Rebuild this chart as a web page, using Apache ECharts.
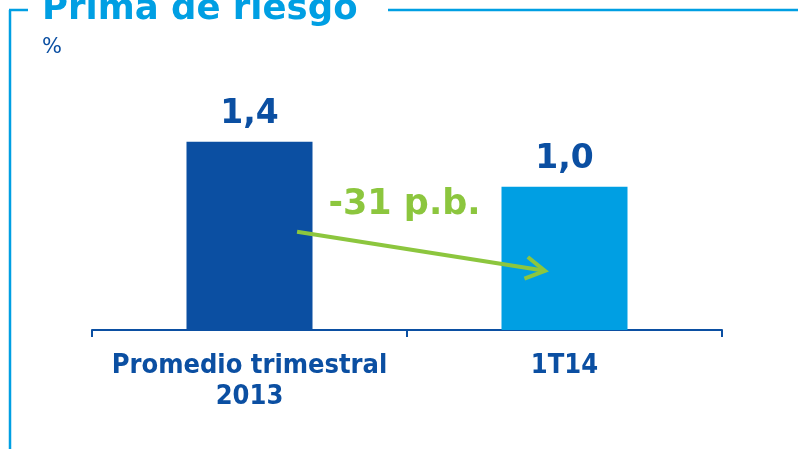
<!DOCTYPE html>
<html>
<head>
<meta charset="utf-8">
<style>
  html, body { margin: 0; padding: 0; background: #fff; }
  #chart { width: 798px; height: 449px; }
</style>
<script src="https://cdn.jsdelivr.net/npm/echarts@6/dist/echarts.min.js"></script>
</head>
<body>
<div id="chart"></div>
<script>
// data
const categories = ['Promedio trimestral\n2013', '1T14'];
const values = [1.40, 1.065];
const valueLabels = ['1,4', '1,0'];
const barColors = ['#0b4fa2', '#009fe3'];

// change annotation (data space: x in category index units, y in %)
const changeText = '-31 p.b.';
const changeTextPos = [0.492, 0.93];
const arrowFrom = [0.151, 0.73];
const arrowTo = [0.938, 0.44];

const DARK = '#0b4fa2';
const LIGHT = '#009fe3';
const GREEN = '#8cc63e';
const FONT = '"DejaVu Sans", sans-serif';
const FONT_NARROW = '"DejaVu Sans Condensed", "DejaVu Sans", sans-serif';

const chart = echarts.init(document.getElementById('chart'));

const option = {
    animation: false,
    grid: { left: 92, right: 76, top: 61, bottom: 119 },
    xAxis: [
        {
            type: 'category',
            data: categories,
            axisLine: { lineStyle: { color: DARK, width: 2 } },
            axisTick: { show: true, interval: 0, length: 7, lineStyle: { color: DARK, width: 2 } },
            axisLabel: {
                interval: 0,
                color: DARK,
                fontFamily: FONT_NARROW,
                fontWeight: 'bold',
                fontSize: 27,
                lineHeight: 31,
                margin: 20
            }
        },
        {
            // hidden helper axis for placing the annotation
            type: 'value',
            min: -0.5,
            max: 1.5,
            show: false
        }
    ],
    yAxis: {
        type: 'value',
        min: 0,
        max: 2,
        show: false,
        splitLine: { show: false }
    },
    series: [
        {
            type: 'bar',
            barWidth: '40%',
            data: values.map((v, i) => ({ value: v, itemStyle: { color: barColors[i] } })),
            label: {
                show: true,
                position: 'top',
                distance: 11,
                color: DARK,
                fontFamily: FONT,
                fontWeight: 'bold',
                fontSize: 33,
                formatter: p => valueLabels[p.dataIndex]
            }
        }
    ],
    graphic: [
        // frame
        { type: 'line', z: 10, shape: { x1: 10, y1: 10, x2: 10, y2: 449 }, style: { stroke: LIGHT, lineWidth: 2.5 } },
        { type: 'line', z: 10, shape: { x1: 9, y1: 10, x2: 28, y2: 10 }, style: { stroke: LIGHT, lineWidth: 2.5 } },
        { type: 'line', z: 10, shape: { x1: 388, y1: 10, x2: 798, y2: 10 }, style: { stroke: LIGHT, lineWidth: 2.5 } },
        {
            type: 'text', z: 10, left: 42, top: -8,
            style: { text: 'Prima de riesgo', fill: LIGHT, font: 'bold 35.5px ' + FONT }
        },
        {
            type: 'text', z: 10, left: 42, top: 37,
            style: { text: '%', fill: DARK, font: '21px ' + FONT }
        }
    ]
};

chart.setOption(option);

// arrow and change label placed through the axes
const toPx = v => chart.convertToPixel({ xAxisIndex: 1, yAxisIndex: 0 }, v);
const p1 = toPx(arrowFrom);
const p2 = toPx(arrowTo);
const pt = toPx(changeTextPos);
const ang = Math.atan2(p2[1] - p1[1], p2[0] - p1[0]);
const head = 22, spread = 0.52;
const h1 = [p2[0] - head * Math.cos(ang - spread), p2[1] - head * Math.sin(ang - spread)];
const h2 = [p2[0] - head * Math.cos(ang + spread), p2[1] - head * Math.sin(ang + spread)];

chart.setOption({
    graphic: option.graphic.concat([
        {
            type: 'line', z: 100,
            shape: { x1: p1[0], y1: p1[1], x2: p2[0], y2: p2[1] },
            style: { stroke: GREEN, lineWidth: 4 }
        },
        {
            type: 'polyline', z: 100,
            shape: { points: [h1, p2, h2] },
            style: { stroke: GREEN, lineWidth: 4, fill: null, lineJoin: 'miter' }
        },
        {
            type: 'text', z: 100, x: pt[0], y: pt[1],
            style: {
                text: changeText, fill: GREEN, font: 'bold 35px ' + FONT,
                textAlign: 'center', textVerticalAlign: 'middle'
            }
        }
    ])
});

window.addEventListener('resize', () => chart.resize());
</script>
</body>
</html>
